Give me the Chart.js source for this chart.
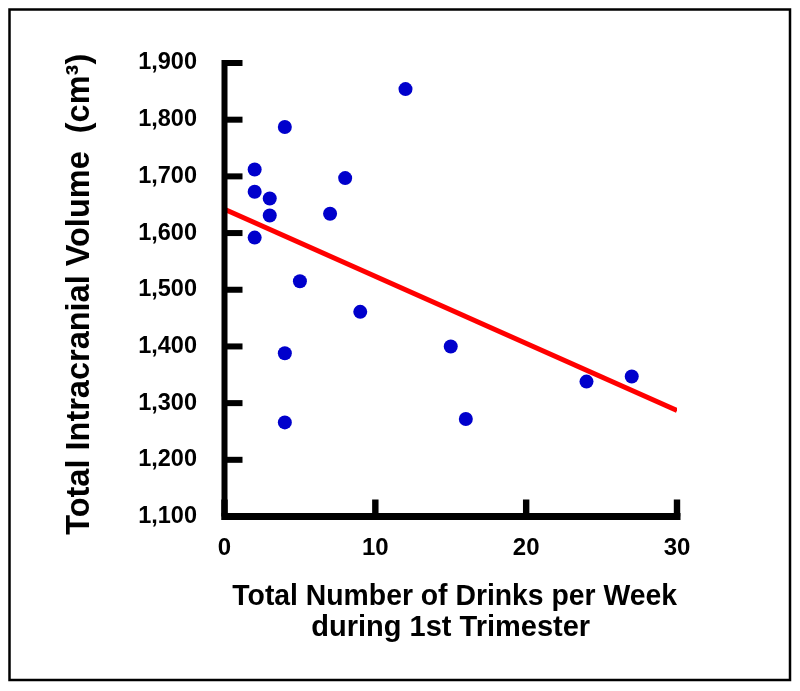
<!DOCTYPE html>
<html>
<head>
<meta charset="utf-8">
<script src="https://cdn.jsdelivr.net/npm/chart.js@4/dist/chart.umd.min.js"></script>
<style>
  html, body { margin: 0; padding: 0; background: #ffffff; }
  #wrap { width: 800px; height: 691px; position: relative; }
</style>
</head>
<body>
<div id="wrap"><canvas id="c" width="800" height="691"></canvas></div>
<script>
// Data
const drinksPerWeek = [12, 4, 2, 8, 2, 3, 3, 7, 2, 5, 9, 15, 4, 4, 16, 24, 27];
const intracranialVolume = [1854, 1787, 1712, 1697, 1673, 1661, 1631, 1634, 1592, 1515, 1461, 1400, 1388, 1266, 1272, 1338, 1347];
const fitX = [0, 30];
const fitY = [1642, 1287];
const xTicks = [0, 10, 20, 30];
const yTicks = [1100, 1200, 1300, 1400, 1500, 1600, 1700, 1800, 1900];

const FONT = "'Liberation Sans', Arial, Helvetica, sans-serif";

const scatterData = drinksPerWeek.map((x, i) => ({ x: x, y: intracranialVolume[i] }));
const fitData = fitX.map((x, i) => ({ x: x, y: fitY[i] }));

const axesPlugin = {
  id: 'axesPlugin',
  afterDraw(chart) {
    const ctx = chart.ctx;
    const xs = chart.scales.x, ys = chart.scales.y;
    const x0 = xs.getPixelForValue(xTicks[0]);
    const x1 = xs.getPixelForValue(xTicks[xTicks.length - 1]);
    const yB = ys.getPixelForValue(yTicks[0]);
    const yT = ys.getPixelForValue(yTicks[yTicks.length - 1]);
    ctx.save();
    ctx.fillStyle = '#000';
    // y axis line
    ctx.fillRect(x0 - 3, yT - 3, 6, (yB - yT) + 6.5);
    // x axis line
    ctx.fillRect(x0 - 3, yB - 3.5, (x1 - x0) + 6.5, 7);
    // inward y ticks
    yTicks.forEach(v => {
      const p = ys.getPixelForValue(v);
      ctx.fillRect(x0, p - 3, 18, 6);
    });
    // inward x ticks
    xTicks.forEach(v => {
      const p = xs.getPixelForValue(v);
      ctx.fillRect(p - 3.2, yB - 17, 6.4, 17);
    });
    // outer frame
    ctx.strokeStyle = '#000';
    ctx.lineWidth = 2.5;
    ctx.strokeRect(9.5, 9.5, 780.5, 670.5);
    ctx.restore();
  }
};

new Chart(document.getElementById('c'), {
  type: 'scatter',
  data: {
    datasets: [
      {
        type: 'line',
        data: fitData,
        borderColor: '#ff0000',
        backgroundColor: '#ff0000',
        borderWidth: 5,
        pointRadius: 0,
        fill: false,
        tension: 0,
        order: 2
      },
      {
        type: 'scatter',
        data: scatterData,
        backgroundColor: '#0000cc',
        borderColor: '#0000cc',
        borderWidth: 0,
        pointRadius: 7,
        pointHoverRadius: 7,
        order: 1
      }
    ]
  },
  options: {
    responsive: false,
    animation: false,
    events: [],
    layout: { padding: { top: 63, right: 123, left: 0, bottom: 0 } },
    plugins: {
      legend: { display: false },
      title: { display: false },
      tooltip: { enabled: false }
    },
    scales: {
      x: {
        type: 'linear',
        min: 0,
        max: 30,
        afterFit: s => { s.height = 174.5; },
        afterBuildTicks: s => { s.ticks = xTicks.map(v => ({ value: v })); },
        grid: { display: false, drawTicks: false },
        border: { display: false },
        ticks: {
          padding: 17,
          color: '#000',
          font: { family: FONT, size: 24, weight: 'bold' },
          maxRotation: 0
        },
        title: {
          display: true,
          text: [' Total Number of Drinks per Week', 'during 1st Trimester'],
          color: '#000',
          font: { family: FONT, size: 29, weight: 'bold', lineHeight: 31 / 29 },
          padding: { top: 0, bottom: 47.5 }
        }
      },
      y: {
        type: 'linear',
        min: 1100,
        max: 1900,
        afterFit: s => { s.width = 224.5; },
        afterBuildTicks: s => { s.ticks = yTicks.map(v => ({ value: v })); },
        grid: { display: false, drawTicks: false },
        border: { display: false },
        ticks: {
          padding: 27.5,
          color: '#000',
          font: { family: FONT, size: 23.5, weight: 'bold' },
          callback: v => v.toLocaleString('en-US')
        },
        title: {
          display: true,
          text: 'Total Intracranial Volume  (cm\u00B3) ',
          color: '#000',
          font: { family: FONT, size: 32.5, weight: 'bold' },
          padding: { top: 61, bottom: 0 }
        }
      }
    }
  },
  plugins: [axesPlugin]
});
</script>
</body>
</html>
